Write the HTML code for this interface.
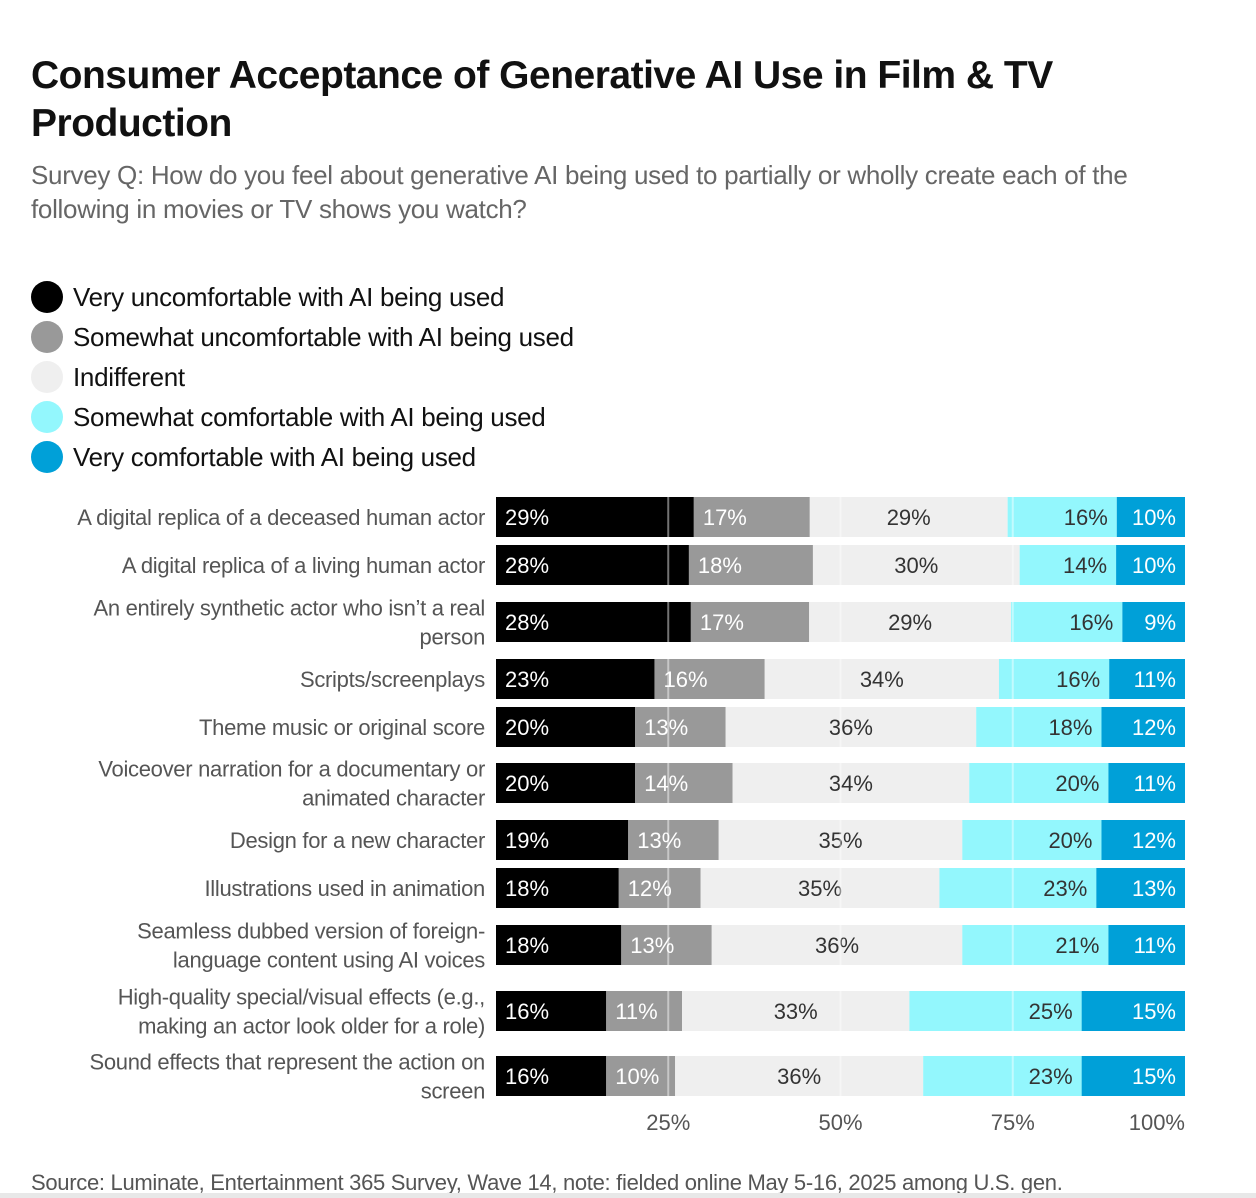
<!DOCTYPE html>
<html><head><meta charset="utf-8"><style>
body{margin:0;background:#fff;font-family:"Liberation Sans",sans-serif;width:1256px;height:1198px;overflow:hidden;position:relative}
.t{position:absolute;left:31px;top:52px;font-size:39px;font-weight:bold;line-height:48px;color:#111;letter-spacing:-0.5px;width:1150px}
.s{position:absolute;left:31px;top:158px;font-size:26px;line-height:34px;color:#666;width:1180px;letter-spacing:-0.3px}
.lg{position:absolute;left:31px;font-size:26px;color:#111;height:40px;line-height:40px;letter-spacing:-0.3px}
.lg i{position:absolute;left:0;top:4px;width:32px;height:32px;border-radius:50%}
.lg span{position:absolute;left:42px;white-space:nowrap}
.src{position:absolute;left:31px;top:1170px;font-size:22px;color:#555;white-space:nowrap;letter-spacing:-0.3px}
</style></head><body>
<div class="t">Consumer Acceptance of Generative AI Use in Film &amp; TV Production</div>
<div class="s">Survey Q: How do you feel about generative AI being used to partially or wholly create each of the following in movies or TV shows you watch?</div>
<div>
<div class="lg" style="top:277px"><i style="background:#000"></i><span>Very uncomfortable with AI being used</span></div>
<div class="lg" style="top:317px"><i style="background:#999"></i><span>Somewhat uncomfortable with AI being used</span></div>
<div class="lg" style="top:357px"><i style="background:#efefef"></i><span>Indifferent</span></div>
<div class="lg" style="top:397px"><i style="background:#93f7fd"></i><span>Somewhat comfortable with AI being used</span></div>
<div class="lg" style="top:437px"><i style="background:#00a0d8"></i><span>Very comfortable with AI being used</span></div>
</div>
<svg id="chart" width="1256" height="1198" style="position:absolute;left:0;top:0"></svg>
<div class="src">Source: Luminate, Entertainment 365 Survey, Wave 14, note: fielded online May 5-16, 2025 among U.S. gen.</div>
<div style="position:absolute;left:0;top:1193px;width:1256px;height:5px;background:#e8e8e8"></div>
<script>
const categories=[["A digital replica of a deceased human actor"],["A digital replica of a living human actor"],["An entirely synthetic actor who isn’t a real","person"],["Scripts/screenplays"],["Theme music or original score"],["Voiceover narration for a documentary or","animated character"],["Design for a new character"],["Illustrations used in animation"],["Seamless dubbed version of foreign-","language content using AI voices"],["High-quality special/visual effects (e.g.,","making an actor look older for a role)"],["Sound effects that represent the action on","screen"]];
const veryUncomfortable=[29,28,28,23,20,20,19,18,18,16,16];
const somewhatUncomfortable=[17,18,17,16,13,14,13,12,13,11,10];
const indifferent=[29,30,29,34,36,34,35,35,36,33,36];
const somewhatComfortable=[16,14,16,16,18,20,20,23,21,25,23];
const veryComfortable=[10,10,9,11,12,11,12,13,11,15,15];
const tickValues=[25,50,75,100];
const tickLabels=["25%","50%","75%","100%"];
const rowCenters=[517,565,622,679,727,783,840,888,945,1011,1076];
const NS="http://www.w3.org/2000/svg";
const svg=document.getElementById('chart');
const x0=496,x1=1185;
const xs=v=>x0+(x1-x0)*v/100;
const colors=["#000","#999","#efefef","#93f7fd","#00a0d8"];
const txtCol=["#fff","#fff","#333","#333","#fff"];
const names=["very-uncomfortable","somewhat-uncomfortable","indifferent","somewhat-comfortable","very-comfortable"];
const series=[veryUncomfortable,somewhatUncomfortable,indifferent,somewhatComfortable,veryComfortable];
function mk(tag,attrs,parent){const e=document.createElementNS(NS,tag);for(const k in attrs)e.setAttribute(k,attrs[k]);(parent||svg).appendChild(e);return e;}
categories.forEach((cat,i)=>{
  const cy=rowCenters[i];
  const g=mk('g',{});
  
  
  const lab=mk('text',{x:485,'text-anchor':'end','font-size':22,fill:'#555','font-family':'Liberation Sans, sans-serif','letter-spacing':'-0.3'},g);
  
  
  const n=cat.length;
  cat.forEach((line,j)=>{const ts=mk('tspan',{x:485,y:cy+8+(j-(n-1)/2)*29},lab);ts.textContent=line;});
  const total=series.reduce((s,a)=>s+a[i],0);
  let acc=0;
  series.forEach((arr,k)=>{
    const v=arr[i];const a=xs(acc/total*100),b=xs((acc+v)/total*100);acc+=v;
    const r=mk('rect',{x:a,y:cy-20,width:b-a,height:40,fill:colors[k]},g);
    
    
    let tx,anc;
    if(k<2){tx=a+9;anc='start';}else if(k==2){tx=(a+b)/2;anc='middle';}else{tx=b-9;anc='end';}
    const t=mk('text',{x:tx,y:cy+8,'text-anchor':anc,'font-size':22,fill:txtCol[k],'font-family':'Liberation Sans, sans-serif'},g);
    
    
    t.textContent=v+'%';
  });
});
tickValues.forEach((v,i)=>{
  if(v<100){const l=mk('line',{x1:xs(v),x2:xs(v),y1:497,y2:1096,stroke:'#fff','stroke-opacity':0.45,'stroke-width':2});
  
  }
  const t=mk('text',{x:v==100?xs(v):xs(v),y:1130,'text-anchor':v==100?'end':'middle','font-size':22,fill:'#555','font-family':'Liberation Sans, sans-serif'});
  
  
  t.textContent=tickLabels[i];
});
</script>
</body></html>
